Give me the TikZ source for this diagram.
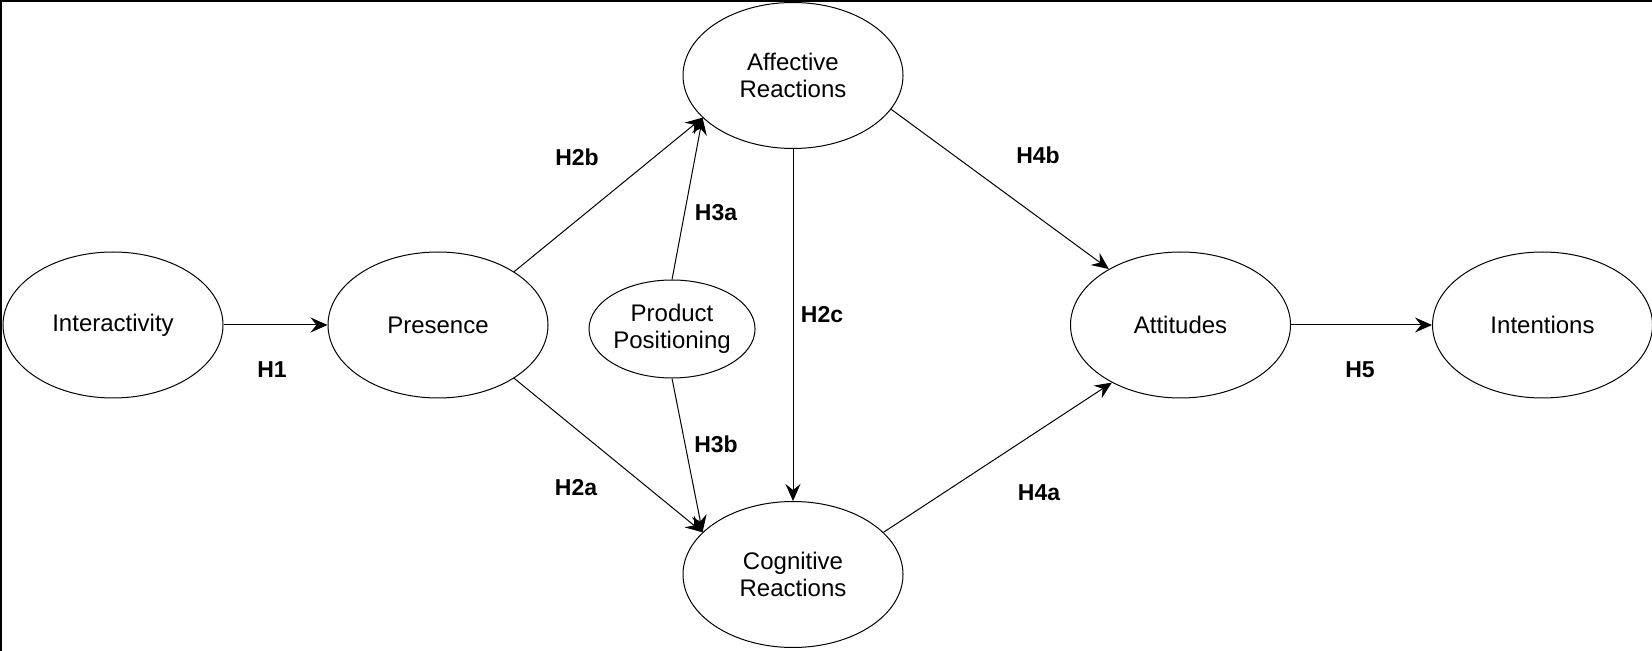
\documentclass[tikz,border=0pt]{standalone}
\usepackage{fontspec}
\setmainfont{Liberation Sans}
\usetikzlibrary{positioning}
\usetikzlibrary{shapes.geometric,arrows.meta}

\tikzset{
	construct/.style={ellipse, draw, line width=0.5pt, minimum width=110pt, minimum height=73pt,
		inner sep=0pt, align=center, font=\fontsize{12}{13.5}\selectfont},
	hyp/.style={font=\bfseries\fontsize{11.5}{13}\selectfont, inner sep=0pt},
}

\begin{document}
\begin{tikzpicture}[x=0.5pt, y=-0.5pt, line width=0.5pt, >={Stealth[length=8.5pt,width=7.5pt,inset=3pt]}]
			\useasboundingbox (0,0) rectangle (1652,651);
			\draw[line width=1pt] (1,651) -- (1,1) -- (1652,1);
			
			\node[construct] (inter) at (113,325) {Interactivity};
			\node[construct] (pres) [right = 52pt of inter] {Presence};
			\node[construct, minimum width=82.5pt, minimum height=49pt] (prod) [right = 20pt of pres, yshift=-2pt] {Product\\Positioning};
			
			\coordinate (mid) at (793,325);
			\node[construct] (aff) [above = 88pt of mid] {Affective\\Reactions};
			\node[construct] (cog) [below = 88pt of mid] {Cognitive\\Reactions};
			\node[construct] (att) [right = 138.5pt of mid] {Attitudes};
			\node[construct] (intent) [right = 70.5pt of att] {Intentions};
			
			\draw[->] (inter) -- (pres);
			\draw[->] (pres.35) -- (aff.205);
			\draw[->] (pres.-35) -- (cog.155);
			\draw[->] (prod.north) -- (aff.205);
			\draw[->] (prod.south) -- (cog.155);
			\draw[->] (aff.south) -- (cog.north);
			\draw[->] (aff.-19) -- (att.142);
			\draw[->] (cog.25) -- (att.220);
			\draw[->] (att) -- (intent);
			
			\node[hyp] (h1) at (272,370) {H1};
			\node[hyp] (h2b) at (577,157) {H2b};
			\node[hyp] (h2a) at (576,488) {H2a};
			\node[hyp] (h3a) at (716,213) {H3a};
			\node[hyp] (h3b) at (716,444) {H3b};
			\node[hyp] (h2c) at (822,315) {H2c};
			\node[hyp] (h4b) at (1038,155) {H4b};
			\node[hyp] (h4a) at (1039,493) {H4a};
			\node[hyp] (h5) at (1360,370) {H5};
\end{tikzpicture}
\end{document}
